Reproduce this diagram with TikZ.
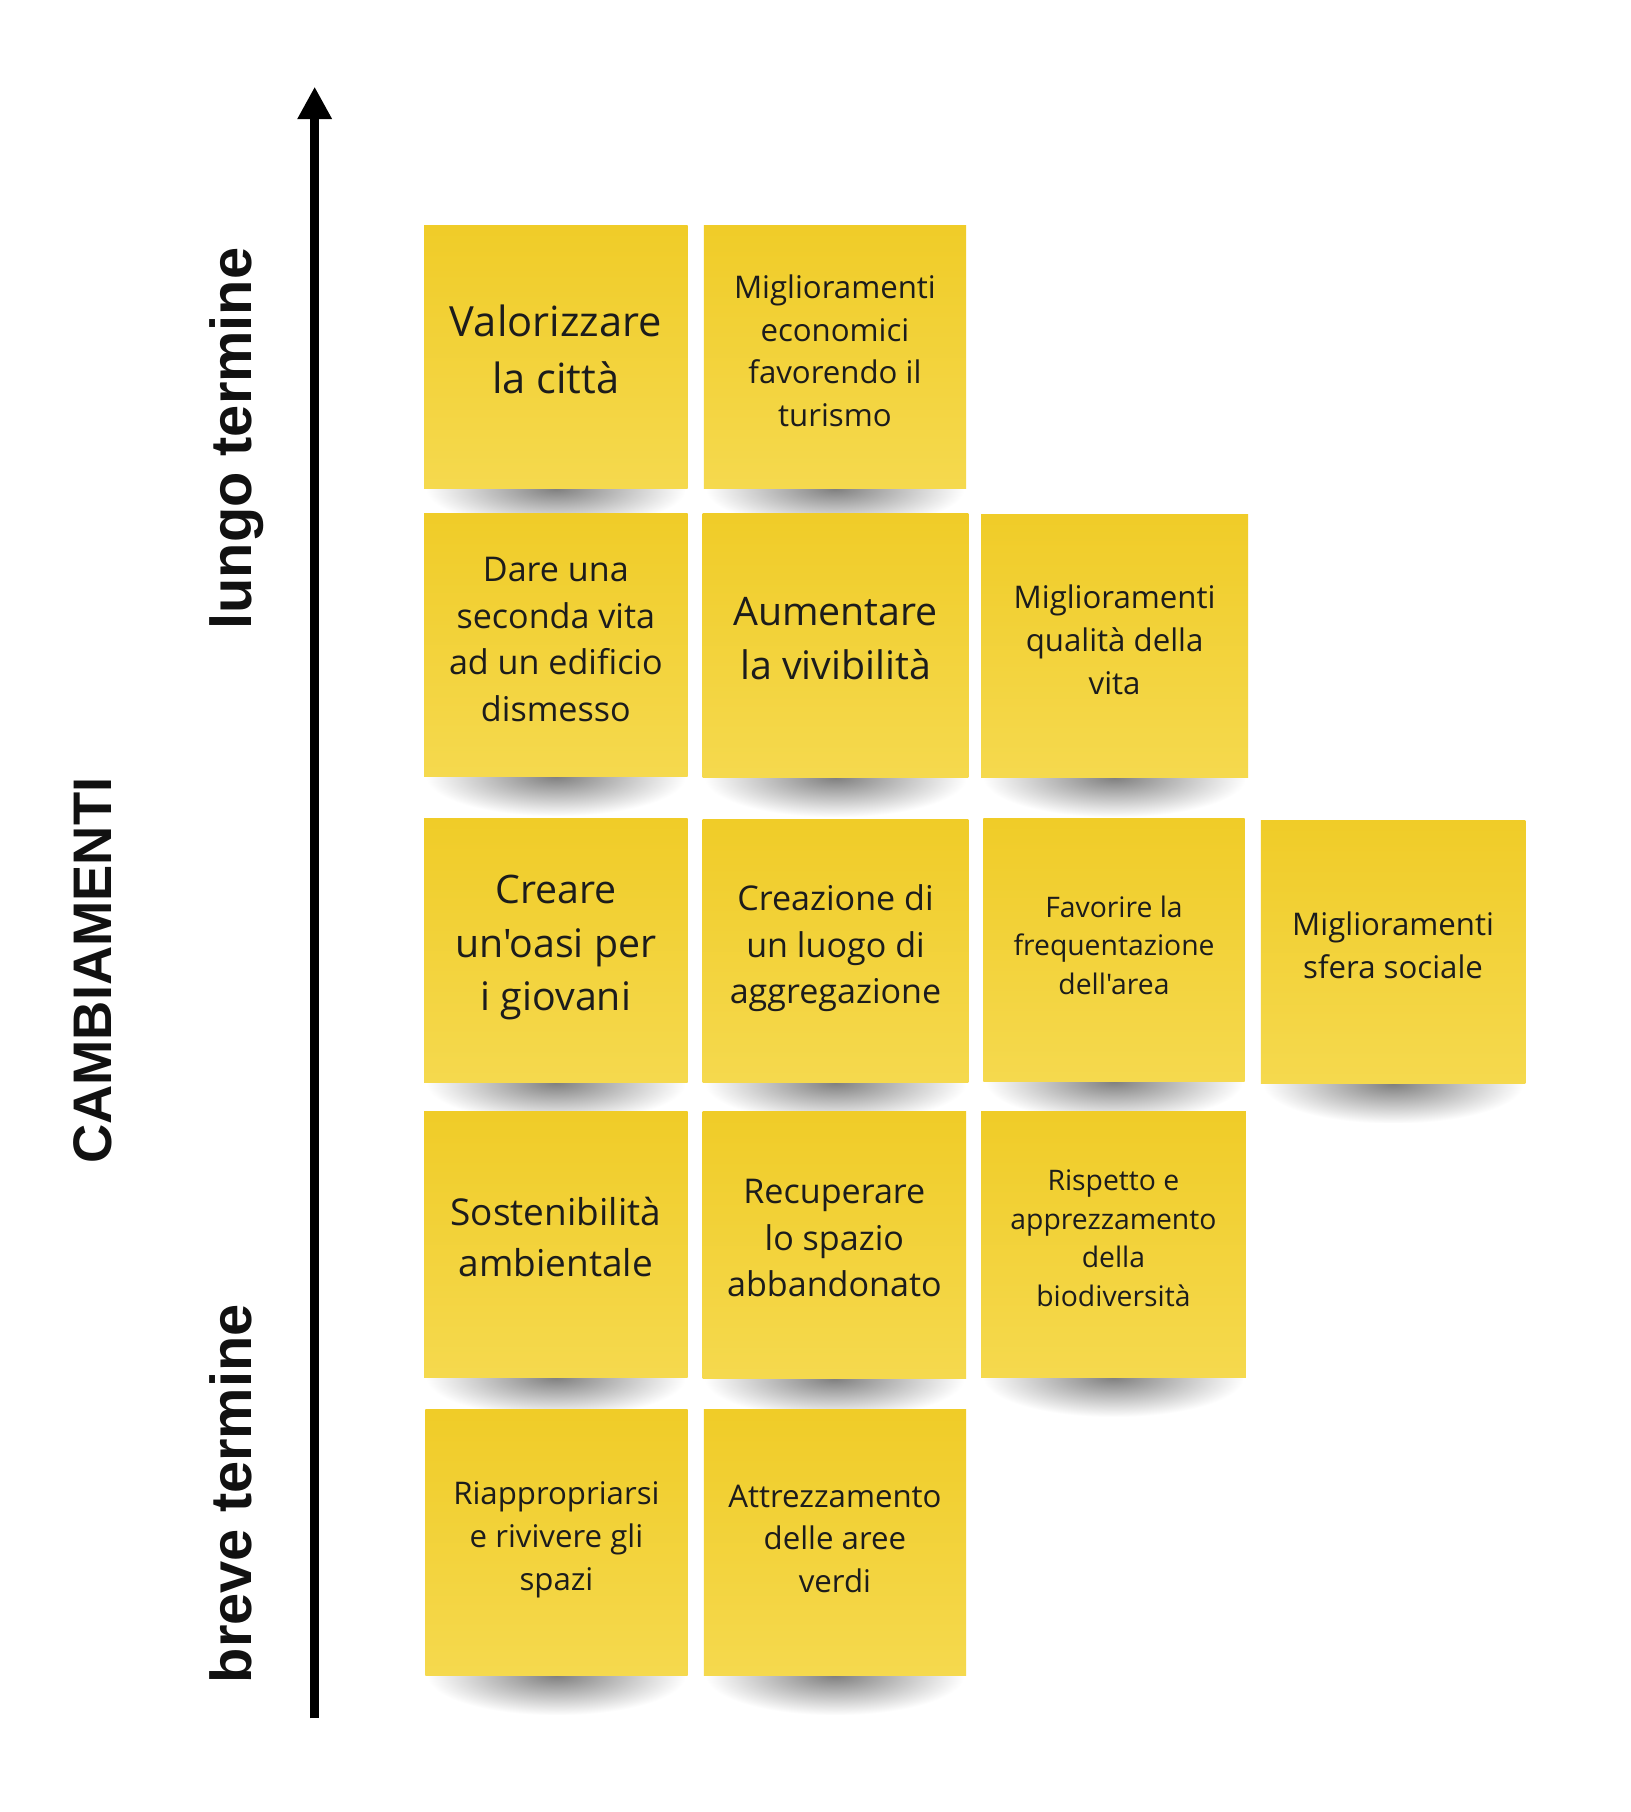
\documentclass[tikz,border=0pt]{standalone}
\usepackage{fontspec}
\setmainfont{Open Sans}[Ligatures=TeXOff]
\newfontfamily\axisfont{Liberation Sans}
\usetikzlibrary{arrows.meta,fadings}
\definecolor{ink}{HTML}{1C1C1C}
\definecolor{axisink}{HTML}{111111}
\definecolor{ytop}{RGB}{240,204,40}
\definecolor{ybot}{RGB}{245,217,78}
\tikzfading[name=shfade, inner color=transparent!0, outer color=transparent!100]
\tikzset{
  postit/.style={draw=none, rectangle, inner sep=0pt, outer sep=0pt, top color=ytop, bottom color=ybot},
  notetext/.style={align=center, text=ink, inner sep=0pt},
  axislabel/.style={rotate=90, anchor=base, inner sep=0pt, text=axisink, font=\axisfont\bfseries\fontsize{50}{60}\selectfont},
  shadowfill/.style={fill=black, opacity=0.5, path fading=shfade}
}
\newcommand\stickyshadow[3]{%
  \pgfmathsetmacro\cxs{#1+0.5*(#2-#1)}%
  \pgfmathsetmacro\hws{0.49*(#2-#1)}%
  \fill[shadowfill] (\cxs-\hws,#3-34) rectangle (\cxs+\hws,#3+34);}
\newcommand\fsz[1]{\pgfmathsetmacro\lskipval{#1*1.37}\fontsize{#1}{\lskipval}\selectfont}
\begin{document}
\begin{tikzpicture}[x=1pt,y=-1pt]
\useasboundingbox[fill=white] (0,0) rectangle (1411,1568);

% shadows
\stickyshadow{367}{595}{423}
\stickyshadow{609}{836}{423}
\stickyshadow{367}{595}{672}
\stickyshadow{608}{838}{673}
\stickyshadow{849}{1080}{673}
\stickyshadow{367}{595}{937}
\stickyshadow{608}{838}{937}
\stickyshadow{851}{1077}{936}
\stickyshadow{1091}{1320}{938}
\stickyshadow{367}{595}{1192}
\stickyshadow{608}{836}{1193}
\stickyshadow{849}{1078}{1192}
\stickyshadow{368}{595}{1450}
\stickyshadow{609}{836}{1450}

% sticky notes
\node[postit, minimum width=228pt, minimum height=228pt] (s1) at (481,309) {};
\node[postit, minimum width=227pt, minimum height=228pt] (s2) at (722.5,309) {};
\node[postit, minimum width=228pt, minimum height=228pt] (s3) at (481,558) {};
\node[postit, minimum width=230pt, minimum height=229pt] (s4) at (723,558.5) {};
\node[postit, minimum width=231pt, minimum height=228pt] (s5) at (964.5,559) {};
\node[postit, minimum width=228pt, minimum height=229pt] (s6) at (481,822.5) {};
\node[postit, minimum width=230pt, minimum height=228pt] (s7) at (723,823) {};
\node[postit, minimum width=226pt, minimum height=228pt] (s8) at (964,822) {};
\node[postit, minimum width=229pt, minimum height=228pt] (s9) at (1205.5,824) {};
\node[postit, minimum width=228pt, minimum height=230pt] (s10) at (481,1077) {};
\node[postit, minimum width=228pt, minimum height=231pt] (s11) at (722,1077.5) {};
\node[postit, minimum width=229pt, minimum height=230pt] (s12) at (963.5,1077) {};
\node[postit, minimum width=227pt, minimum height=230pt] (s13) at (481.5,1335) {};
\node[postit, minimum width=227pt, minimum height=230pt] (s14) at (722.5,1335) {};

% texts
\node[notetext, font=\fsz{36}] (t1) at (481,302) {Valorizzare\\la città};
\node[notetext, font=\fsz{27}] (t2) at (722.5,303.5) {Miglioramenti\\economici\\favorendo il\\turismo};
\node[notetext, font=\fsz{29.5}] (t3) at (481,553.5) {Dare una\\seconda vita\\ad un edificio\\dismesso};
\node[notetext, font=\fsz{34}] (t4) at (723,552.5) {Aumentare\\la vivibilità};
\node[notetext, font=\fsz{27}] (t5) at (964.5,553.5) {Miglioramenti\\qualità della\\vita};
\node[notetext, font=\fsz{34}] (t6) at (481,820) {Creare\\un'oasi per\\i giovani};
\node[notetext, font=\fsz{29.5}] (t7) at (723,820.5) {Creazione di\\un luogo di\\aggregazione};
\node[notetext, font=\fsz{24.5}] (t8) at (964,818) {Favorire la\\frequentazione\\dell'area};
\node[notetext, font=\fsz{27}] (t9) at (1205.5,818) {Miglioramenti\\sfera sociale};
\node[notetext, font=\fsz{32}] (t10) at (481,1070.5) {Sostenibilità\\ambientale};
\node[notetext, font=\fsz{29.5}] (t11) at (722,1071.5) {Recuperare\\lo spazio\\abbandonato};
\node[notetext, font=\fsz{24.5}] (t12) at (963.5,1071.5) {Rispetto e\\apprezzamento\\della\\biodiversità};
\node[notetext, font=\fsz{27}] (t13) at (481.5,1332.5) {Riappropriarsi\\e rivivere gli\\spazi};
\node[notetext, font=\fsz{27}] (t14) at (722.5,1331.5) {Attrezzamento\\delle aree\\verdi};

% axis
\coordinate (abot) at (272.3,1487);
\coordinate (atop) at (272.3,75);
\draw[line width=7.5pt, black, -{Triangle[length=28pt,width=28pt]}] (abot) -- (atop);

% axis labels
\node[axislabel] (lt) at (218,379.5) {lungo termine};
\node[axislabel] (bt) at (218,1292.5) {breve termine};
\node[axislabel, font=\axisfont\bfseries\fontsize{47}{56}\selectfont] (cb) at (96.7,840) {CAMBIAMENTI};
\end{tikzpicture}
\end{document}
